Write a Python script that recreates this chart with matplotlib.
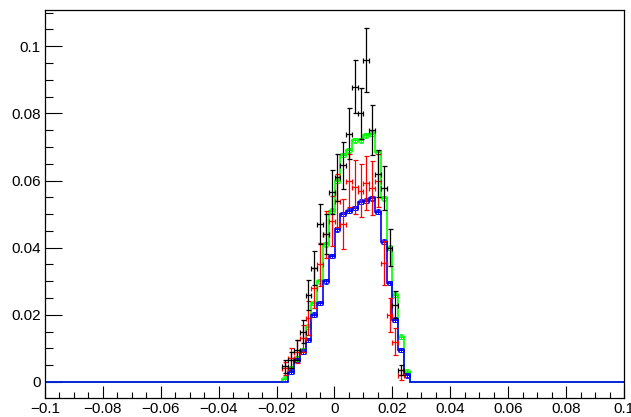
import numpy as np
import matplotlib
matplotlib.use("Agg")
import matplotlib.pyplot as plt
from matplotlib.ticker import MultipleLocator

plt.rcParams['font.family'] = ['Liberation Sans', 'DejaVu Sans']

# binning: 100 bins of width 0.002 between -0.1 and 0.1
x_min, x_max, n_bins = -0.1, 0.1, 100

# bin centres of the non-empty region
centers = [-0.019, -0.017, -0.015, -0.013, -0.011, -0.009, -0.007, -0.005,
           -0.003, -0.001, 0.001, 0.003, 0.005, 0.007, 0.009, 0.011,
           0.013, 0.015, 0.017, 0.019, 0.021, 0.023, 0.025, 0.027]

green = [0.0, 0.001, 0.004, 0.007, 0.0095, 0.0164, 0.0235, 0.030,
         0.041, 0.051, 0.060, 0.0676, 0.069, 0.072, 0.072, 0.0735,
         0.074, 0.0685, 0.0547, 0.040, 0.026, 0.0135, 0.003, 0.0]

blue = [0.0, 0.0, 0.003, 0.0065, 0.009, 0.0125, 0.020, 0.0235,
        0.030, 0.0375, 0.0455, 0.050, 0.051, 0.0518, 0.0537, 0.054,
        0.0547, 0.0507, 0.0418, 0.0295, 0.0185, 0.0095, 0.002, 0.0]

red = [0.0, 0.004, 0.007, 0.009, 0.013, 0.019, 0.028, 0.035,
       0.044, 0.048, 0.054, 0.047, 0.060, 0.058, 0.057, 0.0593,
       0.0577, 0.060, 0.0354, 0.020, 0.012, 0.002, 0.0, 0.0]
red_err = [0.0, 0.002, 0.003, 0.0035, 0.004, 0.005, 0.006, 0.0065,
           0.007, 0.0075, 0.008, 0.0075, 0.008, 0.008, 0.008, 0.008,
           0.008, 0.008, 0.0065, 0.005, 0.004, 0.0015, 0.0, 0.0]

black = [0.0, 0.0046, 0.0065, 0.0095, 0.015, 0.026, 0.034, 0.047,
         0.044, 0.0566, 0.061, 0.0646, 0.074, 0.088, 0.080, 0.0958,
         0.075, 0.062, 0.0577, 0.040, 0.023, 0.0036, 0.0, 0.0]
black_err = [0.0, 0.002, 0.0025, 0.003, 0.0035, 0.0045, 0.005, 0.006,
             0.006, 0.0065, 0.007, 0.007, 0.0075, 0.008, 0.0075, 0.0095,
             0.0075, 0.007, 0.0065, 0.0055, 0.004, 0.0015, 0.0, 0.0]

hist_err = 0.0007

edges = np.linspace(x_min, x_max, n_bins + 1)
width = edges[1] - edges[0]
cen = np.array(centers)
idx = np.round((cen - x_min) / width - 0.5).astype(int)

def full(vals):
    a = np.zeros(n_bins)
    a[idx] = vals
    return a

fig = plt.figure(figsize=(6.31, 4.17), dpi=100)
ax = fig.add_axes([45/631, 19/417, 579/631, 388/417])

GREEN = (0, 1, 0)
BLUE = (0, 0, 1)
RED = (1, 0, 0)

# green histogram
ax.stairs(full(green), edges, color=GREEN, lw=1.2, zorder=3)
m = np.array(green) > 0
ax.errorbar(cen[m], np.array(green)[m], xerr=width/2, yerr=hist_err,
            fmt='s', ms=2.6, mfc='none', mec=GREEN, mew=0.6, color=GREEN,
            lw=0.7, capsize=1.5, capthick=0.7, zorder=3)

# blue histogram
ax.stairs(full(blue), edges, color=BLUE, lw=1.2, zorder=3.1)
m = np.array(blue) > 0
ax.errorbar(cen[m], np.array(blue)[m], xerr=width/2, yerr=hist_err,
            fmt='s', ms=2.6, mfc='none', mec=BLUE, mew=0.6, color=BLUE,
            lw=0.7, capsize=1.5, capthick=0.7, zorder=3.1)

# red points
m = np.array(red) > 0
ax.errorbar(cen[m], np.array(red)[m], xerr=width/2, yerr=np.array(red_err)[m],
            fmt='none', ecolor=RED, lw=0.9, capsize=1.8, capthick=0.9, zorder=3.2)

# black points
m = np.array(black) > 0
ax.errorbar(cen[m], np.array(black)[m], xerr=width/2, yerr=np.array(black_err)[m],
            fmt='none', ecolor='black', lw=0.9, capsize=1.8, capthick=0.9, zorder=3.3)

ax.set_xlim(x_min, x_max)
ax.set_ylim(-0.0048, 0.1108)

ax.xaxis.set_major_locator(MultipleLocator(0.02))
ax.xaxis.set_minor_locator(MultipleLocator(0.005))
ax.yaxis.set_major_locator(MultipleLocator(0.02))
ax.yaxis.set_minor_locator(MultipleLocator(0.005))

def fmt(v, pos=None):
    if abs(v) < 1e-9:
        return '0'
    s = ('%.2f' % v).rstrip('0').rstrip('.')
    return s.replace('-', '\u2212')

ax.xaxis.set_major_formatter(plt.FuncFormatter(fmt))
ax.yaxis.set_major_formatter(plt.FuncFormatter(fmt))

ax.tick_params(axis='x', which='major', direction='in', length=8.4, width=0.8,
               labelsize=11, pad=3, top=False)
ax.tick_params(axis='x', which='minor', direction='in', length=4.2, width=0.8, top=False)
ax.tick_params(axis='y', which='major', direction='in', length=12.2, width=0.8,
               labelsize=11, pad=3, right=False)
ax.tick_params(axis='y', which='minor', direction='in', length=6.1, width=0.8, right=False)

for sp in ax.spines.values():
    sp.set_linewidth(0.9)
    sp.set_color('black')
    sp.set_zorder(4)

fig.savefig('out.png', dpi=100)
